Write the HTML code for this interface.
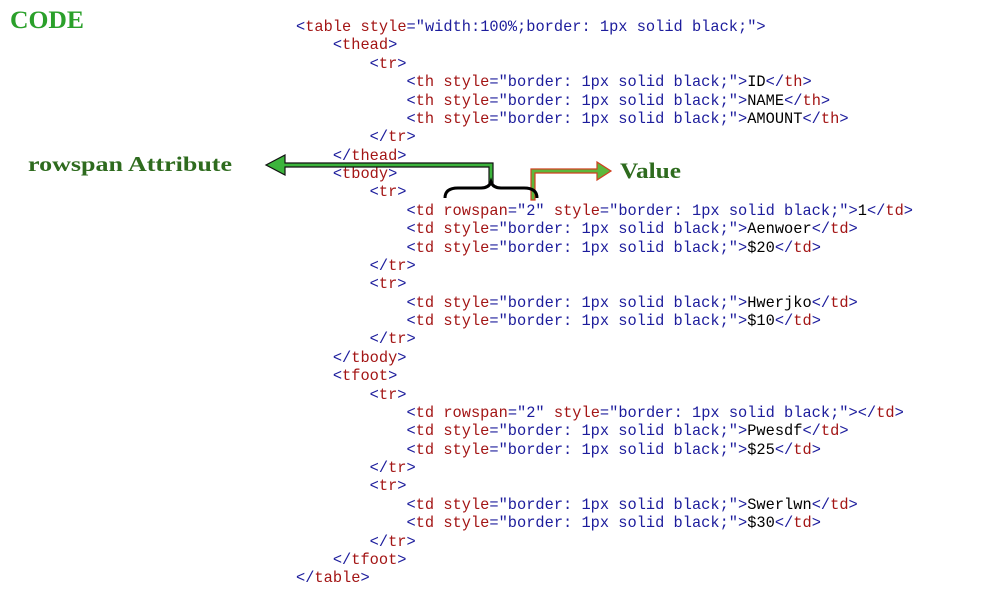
<!DOCTYPE html>
<html><head><meta charset="utf-8"><style>
body{margin:0;width:1000px;height:600px;background:#fff;position:relative;overflow:hidden}
pre{position:absolute;left:296px;top:18px;margin:0;font-family:"Liberation Mono",monospace;font-size:15.35px;line-height:18.37px;color:#1c1c9c}
.n{color:#a31515}.k{color:#000}
</style></head><body>
<pre><span>&lt;</span><span class="n">table</span> <span class="n">style</span>="width:100%;border: 1px solid black;"&gt;
    &lt;<span class="n">thead</span>&gt;
        &lt;<span class="n">tr</span>&gt;
            &lt;<span class="n">th</span> <span class="n">style</span>="border: 1px solid black;"&gt;<span class="k">ID</span>&lt;/<span class="n">th</span>&gt;
            &lt;<span class="n">th</span> <span class="n">style</span>="border: 1px solid black;"&gt;<span class="k">NAME</span>&lt;/<span class="n">th</span>&gt;
            &lt;<span class="n">th</span> <span class="n">style</span>="border: 1px solid black;"&gt;<span class="k">AMOUNT</span>&lt;/<span class="n">th</span>&gt;
        &lt;/<span class="n">tr</span>&gt;
    &lt;/<span class="n">thead</span>&gt;
    &lt;<span class="n">tbody</span>&gt;
        &lt;<span class="n">tr</span>&gt;
            &lt;<span class="n">td</span> <span class="n">rowspan</span>="2" <span class="n">style</span>="border: 1px solid black;"&gt;<span class="k">1</span>&lt;/<span class="n">td</span>&gt;
            &lt;<span class="n">td</span> <span class="n">style</span>="border: 1px solid black;"&gt;<span class="k">Aenwoer</span>&lt;/<span class="n">td</span>&gt;
            &lt;<span class="n">td</span> <span class="n">style</span>="border: 1px solid black;"&gt;<span class="k">$20</span>&lt;/<span class="n">td</span>&gt;
        &lt;/<span class="n">tr</span>&gt;
        &lt;<span class="n">tr</span>&gt;
            &lt;<span class="n">td</span> <span class="n">style</span>="border: 1px solid black;"&gt;<span class="k">Hwerjko</span>&lt;/<span class="n">td</span>&gt;
            &lt;<span class="n">td</span> <span class="n">style</span>="border: 1px solid black;"&gt;<span class="k">$10</span>&lt;/<span class="n">td</span>&gt;
        &lt;/<span class="n">tr</span>&gt;
    &lt;/<span class="n">tbody</span>&gt;
    &lt;<span class="n">tfoot</span>&gt;
        &lt;<span class="n">tr</span>&gt;
            &lt;<span class="n">td</span> <span class="n">rowspan</span>="2" <span class="n">style</span>="border: 1px solid black;"&gt;&lt;/<span class="n">td</span>&gt;
            &lt;<span class="n">td</span> <span class="n">style</span>="border: 1px solid black;"&gt;<span class="k">Pwesdf</span>&lt;/<span class="n">td</span>&gt;
            &lt;<span class="n">td</span> <span class="n">style</span>="border: 1px solid black;"&gt;<span class="k">$25</span>&lt;/<span class="n">td</span>&gt;
        &lt;/<span class="n">tr</span>&gt;
        &lt;<span class="n">tr</span>&gt;
            &lt;<span class="n">td</span> <span class="n">style</span>="border: 1px solid black;"&gt;<span class="k">Swerlwn</span>&lt;/<span class="n">td</span>&gt;
            &lt;<span class="n">td</span> <span class="n">style</span>="border: 1px solid black;"&gt;<span class="k">$30</span>&lt;/<span class="n">td</span>&gt;
        &lt;/<span class="n">tr</span>&gt;
    &lt;/<span class="n">tfoot</span>&gt;
&lt;/<span class="n">table</span>&gt;</pre>
<svg width="1000" height="600" style="position:absolute;left:0;top:0">
<text x="10" y="28" font-family="Liberation Serif,serif" font-weight="bold" font-size="25" fill="#2aa02a" textLength="74" lengthAdjust="spacingAndGlyphs">CODE</text>
<text x="28" y="171" font-family="Liberation Serif,serif" font-weight="bold" font-size="21" fill="#2e6b1e" textLength="204" lengthAdjust="spacingAndGlyphs">rowspan Attribute</text>
<text x="620" y="178" font-family="Liberation Serif,serif" font-weight="bold" font-size="22" fill="#2e6b1e" textLength="61" lengthAdjust="spacingAndGlyphs">Value</text>
<path d="M489,183 L489,167 L285,167 L285,175 L266,165 L285,155 L285,163 L493,163 L493,183 Z" fill="#3cb43c" stroke="#111" stroke-width="1.2"/>
<path d="M531,200 L531,169 L597,169 L597,162 L611,171 L597,180 L597,173 L535,173 L535,200 Z" fill="#5cb83c" stroke="#d04020" stroke-width="1.2"/>
<path d="M445,198 Q445,188 458,188 L481,188 Q489,188 491,182 Q493,188 501,188 L524,188 Q537,188 537,198" fill="none" stroke="#000" stroke-width="3"/>
</svg>
</body></html>
